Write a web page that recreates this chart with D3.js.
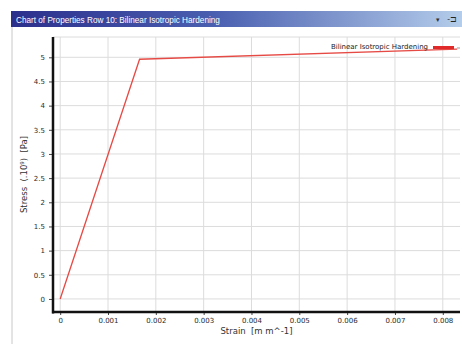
<!DOCTYPE html>
<html>
<head>
<meta charset="utf-8">
<script src="https://cdn.jsdelivr.net/npm/d3@7"></script>
<style>
  body { margin: 0; background: #fff; }
  svg { display: block; }
</style>
</head>
<body>
<div id="chart"></div>
<script>
// series data (stress in 1e9 Pa)
const strain = [0, 0.00166, 0.0083];
const stress = [0, 4.96, 5.17];
const xTicks = [0, 0.001, 0.002, 0.003, 0.004, 0.005, 0.006, 0.007, 0.008];
const yTicks = [0, 0.5, 1, 1.5, 2, 2.5, 3, 3.5, 4, 4.5, 5];
const seriesName = 'Bilinear Isotropic Hardening';
const titleText = 'Chart of Properties Row 10: Bilinear Isotropic Hardening';

const W = 462, H = 344;
const plot = { left: 53, right: 460, top: 37, bottom: 312 };
const font = 'DejaVu Sans, Verdana, sans-serif';

const svg = d3.select('#chart').append('svg').attr('width', W).attr('height', H);

// window title bar
const grad = svg.append('defs').append('linearGradient').attr('id', 'bar');
grad.append('stop').attr('offset', '0%').attr('stop-color', '#2b2f8c');
grad.append('stop').attr('offset', '45%').attr('stop-color', '#4a5fb0');
grad.append('stop').attr('offset', '100%').attr('stop-color', '#b4cdea');
svg.append('rect').attr('x', 11).attr('y', 11).attr('width', W - 11).attr('height', 16).attr('fill', 'url(#bar)');
svg.append('text')
  .attr('x', 16).attr('y', 22.5)
  .attr('font-family', 'Liberation Sans, Arial, sans-serif')
  .attr('font-size', 8.2)
  .attr('fill', '#fff')
  .text(titleText);
svg.append('text').attr('x', 438).attr('y', 22).attr('font-size', 7).attr('fill', '#333').attr('text-anchor', 'middle').text('▾');
svg.append('text').attr('x', 452).attr('y', 22).attr('font-size', 8).attr('fill', '#222').attr('text-anchor', 'middle').text('-⊐');

// window left frame
svg.append('line').attr('x1', 12).attr('x2', 12).attr('y1', 27).attr('y2', H).attr('stroke', '#c8c8c8').attr('stroke-width', 1);

const x = d3.scaleLinear().domain([-0.00015, 0.00836]).range([plot.left, plot.right]);
const y = d3.scaleLinear().domain([-0.27, 5.42]).range([plot.bottom, plot.top]);

const g = svg.append('g');

// grid
g.selectAll('line.vg').data(xTicks).join('line')
  .attr('x1', (d) => x(d)).attr('x2', (d) => x(d))
  .attr('y1', plot.top).attr('y2', plot.bottom)
  .attr('stroke', '#dcdcdc').attr('stroke-width', 1);
g.selectAll('line.hg').data(yTicks).join('line')
  .attr('x1', plot.left).attr('x2', plot.right)
  .attr('y1', (d) => y(d)).attr('y2', (d) => y(d))
  .attr('stroke', '#dcdcdc').attr('stroke-width', 1);
g.append('line').attr('x1', plot.left).attr('x2', plot.right).attr('y1', plot.top).attr('y2', plot.top)
  .attr('stroke', '#dcdcdc');

// axes
const xAxis = d3.axisBottom(x).tickValues(xTicks).tickSize(3).tickFormat((d) => String(+d.toFixed(3)));
const yAxis = d3.axisLeft(y).tickValues(yTicks).tickSize(3).tickFormat((d) => String(d));

const gx = g.append('g').attr('transform', `translate(0,${plot.bottom})`).call(xAxis);
const gy = g.append('g').attr('transform', `translate(${plot.left},0)`).call(yAxis);
[gx, gy].forEach((a) => {
  a.select('.domain').remove();
  a.selectAll('.tick line').attr('stroke', '#444');
  a.selectAll('.tick text').attr('font-family', font).attr('font-size', 7).attr('fill', '#2a2a2a');
});
gx.selectAll('.tick text').attr('dy', 0).attr('y', 11);
gy.selectAll('.tick text').attr('x', -8);
gy.selectAll('.tick line').attr('x2', -4);

g.append('line').attr('x1', plot.left).attr('x2', plot.left).attr('y1', plot.top).attr('y2', plot.bottom + 1.5)
  .attr('stroke', '#111').attr('stroke-width', 2.5);
g.append('line').attr('x1', plot.left - 1).attr('x2', plot.right).attr('y1', plot.bottom).attr('y2', plot.bottom)
  .attr('stroke', '#111').attr('stroke-width', 2.5);

// axis titles
svg.append('text')
  .attr('x', (plot.left + plot.right) / 2).attr('y', 334)
  .attr('text-anchor', 'middle')
  .attr('font-family', font).attr('font-size', 8.5).attr('fill', '#333')
  .attr('xml:space', 'preserve')
  .text('Strain  [m m^-1]');
svg.append('text')
  .attr('transform', `translate(27,${(plot.top + plot.bottom) / 2}) rotate(-90)`)
  .attr('text-anchor', 'middle')
  .attr('font-family', font).attr('font-size', 8.5).attr('fill', '#333')
  .attr('xml:space', 'preserve')
  .text('Stress  (.10⁹)  [Pa]');

// series
const pts = strain.map((s, i) => [s, stress[i]]);
g.append('path').datum(pts)
  .attr('fill', 'none').attr('stroke', '#e64a44').attr('stroke-width', 1.3)
  .attr('d', d3.line().x((d) => x(d[0])).y((d) => y(d[1])));

// legend
svg.append('text')
  .attr('x', 428).attr('y', 48.5)
  .attr('text-anchor', 'end')
  .attr('font-family', font).attr('font-size', 7).attr('fill', '#222')
  .attr('textLength', 97)
  .text(seriesName);
svg.append('line').attr('x1', 433).attr('x2', 454).attr('y1', 47.5).attr('y2', 47.5)
  .attr('stroke', '#e02a2a').attr('stroke-width', 3);
svg.append('line').attr('x1', 457).attr('x2', 460).attr('y1', 48).attr('y2', 48)
  .attr('stroke', '#999').attr('stroke-width', 1);
</script>
</body>
</html>
